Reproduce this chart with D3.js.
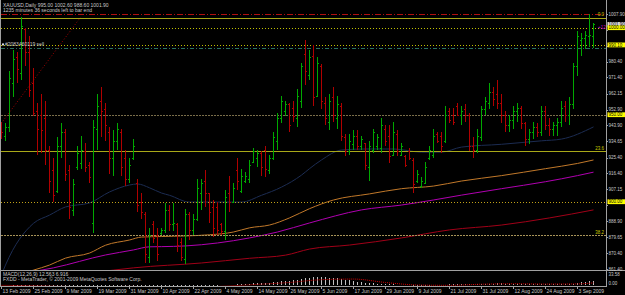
<!DOCTYPE html>
<html>
<head>
<meta charset="utf-8">
<script src="https://cdn.jsdelivr.net/npm/d3@7"></script>
<style>
  body { margin: 0; background: #000; }
  svg { display: block; }
  text { font-family: "Liberation Sans", Arial, sans-serif; font-size: 5px; fill: #c8c8c8; }
  text.ax { font-size: 4.5px; }
</style>
</head>
<body>
<svg id="chart" width="625" height="295"></svg>
<script>
// bar 0 = 13 Feb 2009 ... bar 148 = 9 Sep 2009 (daily XAUUSD)
var dateLabels = ["13 Feb 2009", "25 Feb 2009", "9 Mar 2009", "19 Mar 2009", "31 Mar 2009", "10 Apr 2009",
  "22 Apr 2009", "4 May 2009", "14 May 2009", "26 May 2009", "5 Jun 2009", "17 Jun 2009", "29 Jun 2009",
  "9 Jul 2009", "21 Jul 2009", "31 Jul 2009", "12 Aug 2009", "24 Aug 2009", "3 Sep 2009"];

var opens = [944,938,943,968,983,974,999,986,968,952,950,948,930,918,906,932,940,918,895,920,
  922,929,921,888,942,958,953,940,925,935,940,925,913,925,911,900,893,868,887,881,
  882,884,895,887,887,877,867,893,884,890,905,912,905,897,897,887,883,905,900,918,
  906,912,913,923,925,928,930,918,925,935,948,952,956,954,948,958,985,973,984,961,
  978,957,946,960,948,955,937,929,933,938,932,934,920,930,932,931,942,938,927,939,
  927,926,929,924,912,909,911,925,927,939,938,935,952,950,955,950,953,950,932,930,
  937,953,957,963,962,957,950,944,947,952,954,945,936,940,943,940,952,944,942,944,
  946,955,950,956,978,993,994,995,995];
var highs = [946,945,975,987,986,1006,1000,995,977,957,962,958,932,925,937,945,942,921,913,932,
  938,934,923,947,962,966,957,943,941,945,942,930,925,936,913,905,894,885,889,885,
  885,899,898,899,888,879,896,894,893,913,913,918,905,901,900,888,907,915,911,925,
  919,917,924,931,930,929,932,927,940,951,961,958,957,958,965,980,993,987,990,983,
  979,960,962,966,961,957,939,939,941,941,938,934,935,942,939,948,944,944,946,941,
  934,927,931,925,918,914,923,932,942,940,940,955,954,954,957,955,956,951,937,942,
  955,960,968,966,970,962,952,950,955,957,955,946,942,946,945,955,955,948,946,948,
  958,958,960,980,998,997,998,1008,1002.6];
var lows = [936,935,940,960,968,970,978,960,949,927,928,921,905,900,905,925,912,890,892,918,
  919,917,911,882,930,937,935,916,915,930,915,909,911,924,894,890,865,865,876,866,
  881,882,883,883,871,866,864,878,881,889,895,897,888,880,881,881,878,894,899,907,
  905,911,911,922,920,915,914,916,924,930,945,949,940,946,943,954,967,970,955,961,
  953,944,941,946,942,935,926,927,930,930,930,918,912,928,930,928,932,922,926,926,
  926,920,924,905,911,908,911,924,925,934,928,934,945,944,949,944,946,929,925,928,
  935,950,953,955,953,945,940,940,942,946,942,932,933,936,937,938,941,938,938,938,
  943,946,944,953,972,984,988,989,988.6];
var closes = [940,943,971,982,976,1001,986,964,951,942,941,930,912,904,932,940,916,897,910,928,
  930,920,914,943,955,952,944,925,935,942,920,913,921,932,898,894,870,881,879,870,
  884,895,887,888,875,868,893,884,890,908,911,905,894,885,884,883,903,900,908,912,
  915,915,921,929,928,920,919,925,937,948,958,956,944,949,961,978,975,983,960,980,
  958,948,958,950,956,938,929,935,938,932,936,921,932,940,937,944,935,926,940,929,
  932,921,925,910,916,912,920,930,938,935,932,950,947,946,950,952,950,932,930,938,
  953,958,963,959,957,950,944,947,952,954,945,936,940,943,940,952,944,942,944,946,
  954,950,956,978,995,994,996,996,1001.9];

var priceTicks = [1007.90, 998.65, 989.40, 980.40, 971.40, 962.15, 952.90, 943.90, 934.65, 925.40,
  916.40, 907.15, 898.15, 888.90, 879.65, 870.40, 861.40];
var levelPrices = [1000.00, 990.10, 950.00, 900.00];
var bidPrice = 1001.90;
var fibNames = ["0.0", "23.6", "38.2"];
var fibPrices = [1005.8, 929.1, 880.6];
var highLine = 1007.6;
var orderPrice = 988.6;
var orderLabel = "#2083460119 sell";
var fibDiagBars = [-1, 19.7];
var fibDiagPrices = [942.2, 1005.8];

var navyBars = [0,1,8,12,16,22,27,32,34,37,40,42,47,54,60,65,70,75,77,80,85,91,98,105,110,115,125,135,140,148];
var navyVals = [858,863.6,887.6,892.3,897,899.3,905.6,909.6,910.2,908,905,903.7,899.8,899.8,899.8,903.7,908.4,
  915.3,919,924,929.7,930.3,930.3,928.5,928.5,931.4,933,935,936,943];
var orangeBars = [0,8,12,16,22,26,32,35,40,52,58,62,67,72,77,83,92,100,108,115,125,136,144,148];
var orangeVals = [855,860.7,863.6,867.6,870.5,875,878,879.7,880,881,882.6,885,886.6,890.7,896,901,904.5,
  907.5,909,911.9,915,919,922,924];
var magentaBars = [0,6,13,26,33,37,40,46,54,62,69,77,90,100,108,115,125,136,144,148];
var magentaVals = [856,859,862,869.4,872.3,874.1,874.2,874.6,876.3,879.2,882.6,887.8,895.3,898.1,901,
  903.8,907.5,911.5,915,917];
var redBars = [0,14,28,33,50,62,71,77,87,100,112,125,137,148];
var redVals = [853,857,860.7,862,864.8,867.5,869.3,872.8,875.1,879.2,883.8,886.6,890.7,895.3];

var macdMain = [-1,-1,-1,-2,-2,-2,-3,-3,-3,-4,
  -4,-4,-5,-5,-5,-6,-6,-6,-6,-6,
  -6,-6,-6,-5,-5,-4,-4,-4,-4,-4,
  -4,-4,-4,-4,-5,-5,-6,-6,-7,-7,
  -7,-7,-7,-7,-8,-8,-7,-7,-6,-5,
  -4,-4,-3,-3,-2,-1,
  0.5,1,1.5,2,2.5,3,4,5,6,6.5,
  7,7.5,8.5,10,12,13,14,15,17,19,
  21,23,24,25,25,24,23,22,21,19,
  17,15,13,11,9,7,6,5,4,4,
  3,2,2,1,0.5,-0.5,-1,-2,-3,-3,
  -3,-2,-1,0,0.5,1.5,2,3,3,3.5,
  3.5,3,2.5,2,2.5,3,4,4.5,5,5,
  4.5,4,4,4,3.5,3,2.5,2,2,2.5,
  2.5,2,2,2,2.5,2.5,3,4.5,7,9,
  10.5,11.5,12.563];
var signalBars = [0,8,16,24,32,40,48,56,64,72,80,88,96,104,112,120,128,136,144,148];
var signalVals = [-1,-2.5,-4.5,-5.5,-4.5,-6,-7,-3.5,2,8,17,19,8,0,-1,2.5,4,3,3.5,6.916];
var macdScaleLabels = ["33.58", "0.00"];

var upColor = "#00a800", downColor = "#b00000";
var axisX = 606.5, mainBottom = 270.5, subBottom = 286.5;

var svg = d3.select("#chart");
svg.append("rect").attr("width", 625).attr("height", 295).attr("fill", "#000");

var defs = svg.append("defs");
defs.append("clipPath").attr("id", "clipMain").append("rect")
  .attr("x", 1).attr("y", 1).attr("width", axisX - 1).attr("height", mainBottom - 1.5);
defs.append("clipPath").attr("id", "clipSub").append("rect")
  .attr("x", 1).attr("y", mainBottom + 1).attr("width", axisX - 1).attr("height", subBottom - mainBottom - 1.5);

var x = d3.scaleLinear().domain([0, 148]).range([1.5, 593.5]);
var y = d3.scaleLinear().domain([861.4, 1007.9]).range([268.9, 13.95]);
var yM = d3.scaleLinear().domain([0, 33.58]).range([285, 274.5]);
var py = p => Math.round(y(p)) + 0.5;

var plot = svg.append("g").attr("clip-path", "url(#clipMain)");

function hline(g, p, color, dash, w) {
  g.append("line").attr("x1", 1).attr("x2", axisX).attr("y1", py(p)).attr("y2", py(p))
    .attr("stroke", color).attr("stroke-width", w || 1).attr("stroke-dasharray", dash || null)
    .attr("shape-rendering", "crispEdges");
}

// moving averages
function maLine(bars, vals, color) {
  var line = d3.line().x((d, i) => x(bars[i])).y((d, i) => y(vals[i])).curve(d3.curveMonotoneX);
  plot.append("path").datum(vals).attr("d", line).attr("fill", "none")
    .attr("stroke", color).attr("stroke-width", 1);
}
maLine(redBars, redVals, "#a00018");
maLine(magentaBars, magentaVals, "#b000b0");
maLine(orangeBars, orangeVals, "#c0782a");
maLine(navyBars, navyVals, "#1c2c52");

// levels
hline(plot, highLine, "#b01010", "6,2,1,2", 1.5);
fibPrices.forEach((p, i) => hline(plot, p, i == 2 ? "#a89458" : "#a8a818", i == 2 ? "2,1" : null));
hline(plot, levelPrices[0], "#c0c000", "1,2");
hline(plot, levelPrices[1], "#c0c000", "1,2");
hline(plot, levelPrices[2], "#7a6e4a", "2,1");
hline(plot, levelPrices[3], "#c0a018", "1,2");
hline(plot, orderPrice, "#2a7060", "4,2,1,2");

// fibo diagonal
plot.append("line")
  .attr("x1", x(fibDiagBars[0])).attr("y1", y(fibDiagPrices[0]))
  .attr("x2", x(fibDiagBars[1])).attr("y2", y(fibDiagPrices[1]))
  .attr("stroke", "#a00000").attr("stroke-dasharray", "1,2");

// OHLC bars
var bars = plot.selectAll("g.bar").data(d3.range(opens.length)).enter().append("g")
  .attr("class", "bar").attr("shape-rendering", "crispEdges")
  .attr("stroke", i => closes[i] >= opens[i] ? upColor : downColor);
bars.append("line")
  .attr("x1", i => x(i)).attr("x2", i => x(i))
  .attr("y1", i => y(highs[i])).attr("y2", i => y(lows[i]));
bars.append("line")
  .attr("x1", i => x(i) - 1.5).attr("x2", i => x(i))
  .attr("y1", i => py(opens[i])).attr("y2", i => py(opens[i]));
bars.append("line")
  .attr("x1", i => x(i)).attr("x2", i => x(i) + 1.5)
  .attr("y1", i => py(closes[i])).attr("y2", i => py(closes[i]));

// fib labels
fibNames.forEach((n, i) => svg.append("text").attr("class", "ax").attr("x", 604).attr("y", y(fibPrices[i]) - 1.5)
  .attr("text-anchor", "end").style("fill", "#c8c800").text(n));
svg.append("text").attr("class", "ax").attr("x", 598).attr("y", y(levelPrices[0]) + 1).style("fill", "#d000d0").text("+12");

// order label
svg.append("rect").attr("x", 2).attr("y", y(990.1) - 1.5).attr("width", 2).attr("height", 2).attr("fill", "#e0e0e0");
svg.append("text").attr("x", 5).attr("y", y(990.1) + 1.5).text(orderLabel);

// header
svg.append("text").attr("x", 3).attr("y", 6.5).text("XAUUSD,Daily  995.00 1002.60 988.60 1001.90");
svg.append("text").attr("x", 3).attr("y", 11.5).text("1235 minutes 36 seconds left to bar end");

// MACD window
var sub = svg.append("g").attr("clip-path", "url(#clipSub)");
sub.selectAll("line.h").data(d3.range(macdMain.length)).enter().append("line")
  .attr("shape-rendering", "crispEdges")
  .attr("x1", i => x(i)).attr("x2", i => x(i))
  .attr("y1", yM(0)).attr("y2", i => yM(macdMain[i]))
  .attr("stroke", "#c0c0c0");
sub.append("path").datum(signalVals)
  .attr("d", d3.line().x((d, i) => x(signalBars[i])).y(d => yM(d)).curve(d3.curveMonotoneX))
  .attr("fill", "none").attr("stroke", "#d00000").attr("stroke-dasharray", "1,1");
svg.append("text").attr("x", 3).attr("y", 275.5).text("MACD(12,26,9) 12.563 6.916");
svg.append("text").attr("x", 3).attr("y", 281).text("FXDD - MetaTrader, \u00a9 2001-2009 MetaQuotes Software Corp.");

// frame
var frame = svg.append("g").attr("stroke", "#a0a0a0").attr("shape-rendering", "crispEdges");
frame.append("line").attr("x1", 0.5).attr("x2", 0.5).attr("y1", 0).attr("y2", subBottom);
frame.append("line").attr("x1", axisX).attr("x2", axisX).attr("y1", 0).attr("y2", subBottom);
frame.append("line").attr("x1", 0).attr("x2", 625).attr("y1", mainBottom).attr("y2", mainBottom).attr("stroke-width", 1.5);
frame.append("line").attr("x1", 0).attr("x2", axisX).attr("y1", subBottom).attr("y2", subBottom);

// price axis
var hidden = p => levelPrices.some(l => Math.abs(y(l) - y(p)) < 4);
priceTicks.forEach(p => {
  frame.append("line").attr("x1", axisX).attr("x2", axisX + 1.5).attr("y1", py(p)).attr("y2", py(p));
  if (!hidden(p)) svg.append("text").attr("class", "ax").attr("x", 608.5).attr("y", y(p) + 1.6).text(p.toFixed(2));
});
function tag(p, bg) {
  svg.append("rect").attr("x", axisX + 1).attr("y", y(p) - 2.4).attr("width", 625 - axisX).attr("height", 4.8).attr("fill", bg);
  svg.append("text").attr("class", "ax").attr("x", 608.5).attr("y", y(p) + 1.6).style("fill", "#000").text(p.toFixed(2));
}
tag(bidPrice, "#d8d8d8");
levelPrices.forEach(p => tag(p, "#ffff00"));
svg.append("text").attr("class", "ax").attr("x", 608.5).attr("y", yM(33.58) + 1.6).text(macdScaleLabels[0]);
svg.append("text").attr("class", "ax").attr("x", 608.5).attr("y", yM(0) - 0.5).text(macdScaleLabels[1]);

// date axis
dateLabels.forEach((d, i) => {
  var k = i * 8;
  frame.append("line").attr("x1", x(k)).attr("x2", x(k)).attr("y1", subBottom).attr("y2", subBottom + 2);
  svg.append("text").attr("x", x(k) + 1).attr("y", 292.5).text(d);
});
</script>
</body>
</html>
